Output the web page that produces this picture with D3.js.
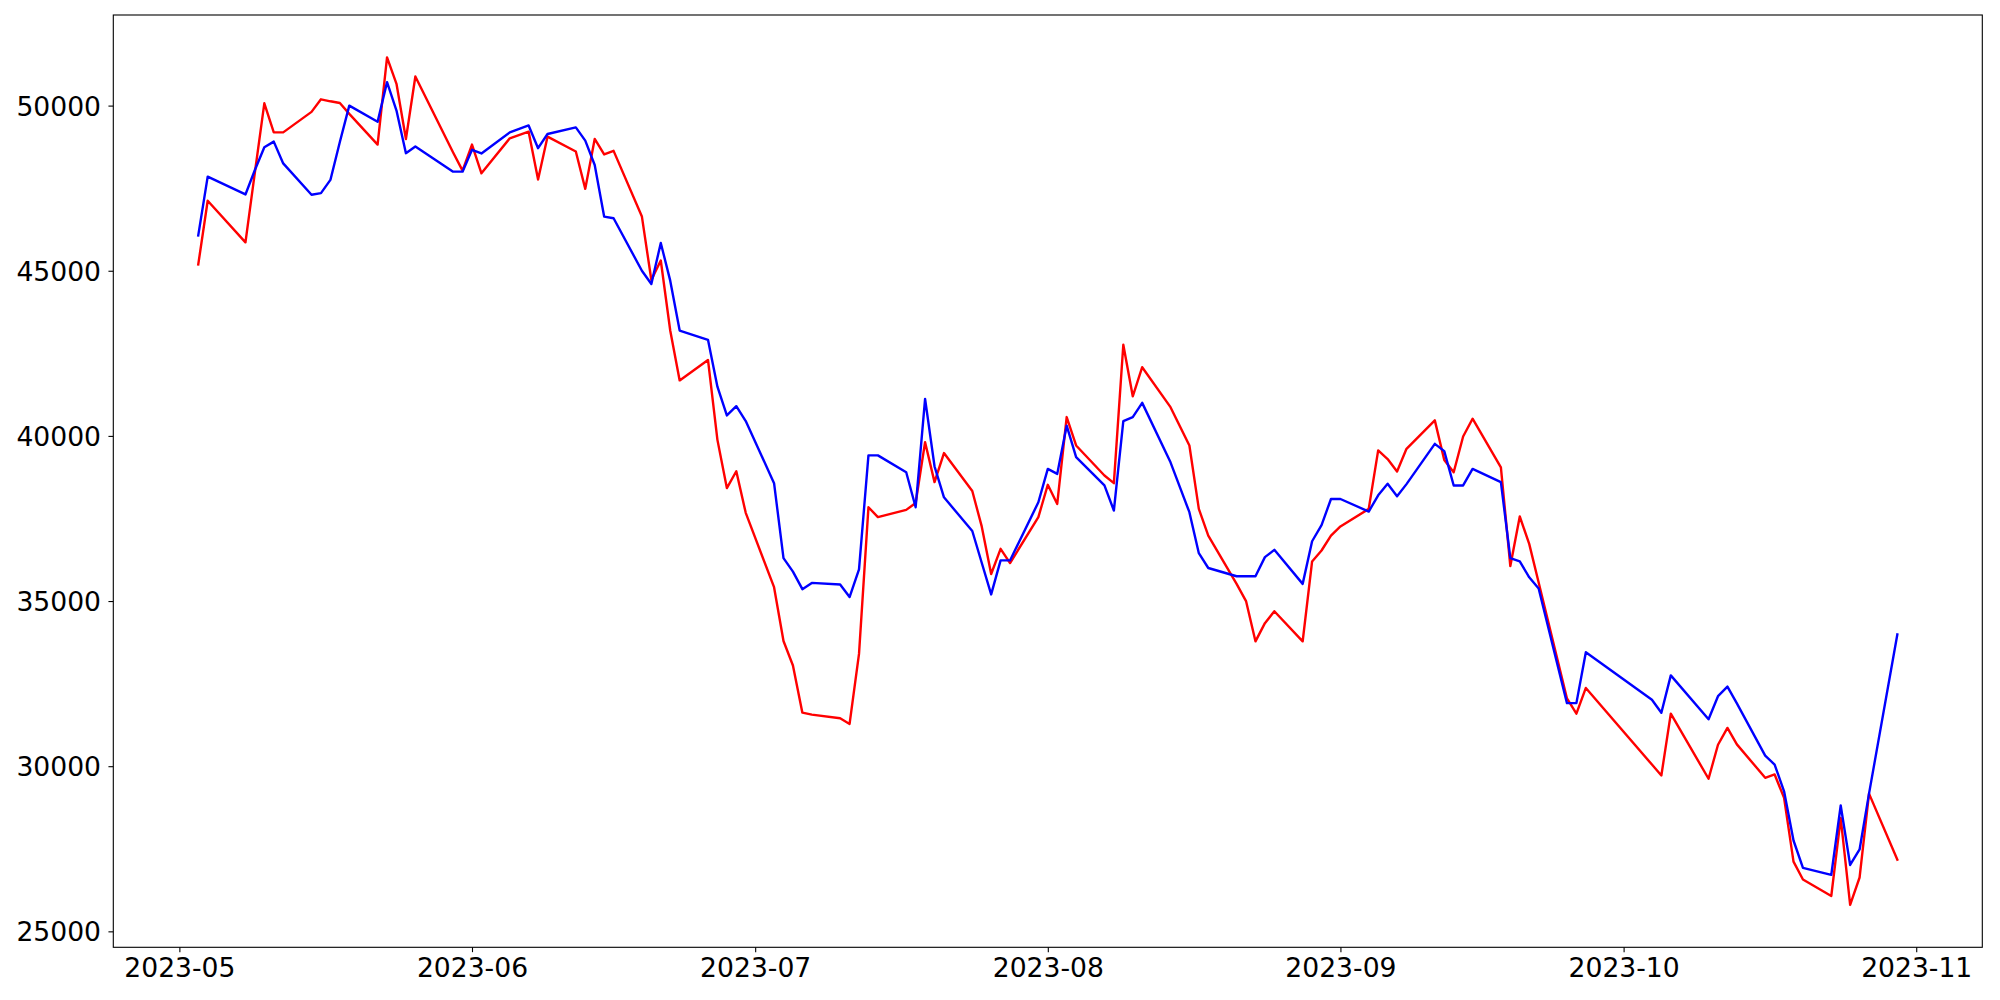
<!DOCTYPE html>
<html>
<head>
<meta charset="utf-8">
<script src="https://cdn.jsdelivr.net/npm/d3@7"></script>
<style>
  html, body { margin: 0; padding: 0; background: #ffffff; }
  svg { display: block; }
</style>
</head>
<body>
<svg id="chart" width="2000" height="1000"></svg>
<script>
// ---- data ----
const dates = [
  "2023-05-03","2023-05-04","2023-05-08","2023-05-09","2023-05-10","2023-05-11","2023-05-12","2023-05-15","2023-05-16","2023-05-17","2023-05-18","2023-05-19","2023-05-22","2023-05-23","2023-05-24","2023-05-25","2023-05-26","2023-05-30","2023-05-31",
  "2023-06-01","2023-06-02","2023-06-05","2023-06-07","2023-06-08","2023-06-09","2023-06-12","2023-06-13","2023-06-14","2023-06-15","2023-06-16","2023-06-19","2023-06-20","2023-06-21","2023-06-22","2023-06-23","2023-06-26","2023-06-27","2023-06-28","2023-06-29","2023-06-30",
  "2023-07-03","2023-07-04","2023-07-05","2023-07-06","2023-07-07","2023-07-10","2023-07-11","2023-07-12","2023-07-13","2023-07-14","2023-07-17","2023-07-18","2023-07-19","2023-07-20","2023-07-21","2023-07-24","2023-07-25","2023-07-26","2023-07-27","2023-07-28","2023-07-31",
  "2023-08-01","2023-08-02","2023-08-03","2023-08-04","2023-08-07","2023-08-08","2023-08-09","2023-08-10","2023-08-11","2023-08-14","2023-08-16","2023-08-17","2023-08-18","2023-08-21","2023-08-22","2023-08-23","2023-08-24","2023-08-25","2023-08-28","2023-08-29","2023-08-30","2023-08-31",
  "2023-09-01","2023-09-04","2023-09-05","2023-09-06","2023-09-07","2023-09-08","2023-09-11","2023-09-12","2023-09-13","2023-09-14","2023-09-15","2023-09-18","2023-09-19","2023-09-20","2023-09-21","2023-09-22","2023-09-25","2023-09-26","2023-09-27",
  "2023-10-04","2023-10-05","2023-10-06","2023-10-10","2023-10-11","2023-10-12","2023-10-13","2023-10-16","2023-10-17","2023-10-18","2023-10-19","2023-10-20","2023-10-23","2023-10-24","2023-10-25","2023-10-26","2023-10-27","2023-10-30"
];

const blueValues = [
  46070,47850,47310,48050,48740,48910,48250,47300,47350,47750,48900,50000,49510,50710,49850,48560,48760,48000,48000,
  48660,48550,49190,49400,48710,49140,49340,48940,48200,46640,46590,45000,44600,45840,44700,43190,42910,41490,40620,40900,40450,
  38570,36300,35890,35360,35550,35500,35120,35960,39410,39410,38900,37840,41120,39080,38140,37120,36160,35200,36230,36230,37990,
  39000,38850,40310,39360,38500,37740,40450,40570,41000,39200,37690,36450,36000,35750,35750,35750,36330,36550,35520,36810,37300,38090,
  38090,37710,38200,38550,38170,38540,39760,39540,38500,38500,39000,38600,36300,36200,35720,35380,31910,31910,33450,
  32010,31620,32750,31420,32120,32410,31900,30320,30050,29240,27750,26920,26710,28810,27010,27480,29170,33990
];

const redValues = [
  45190,47120,45860,47980,50070,49190,49190,49810,50190,50130,50080,49750,48820,51460,50660,48990,50880,48580,48030,
  48820,47950,49010,49210,47760,49060,48610,47480,48990,48520,48630,46640,44720,45310,43190,41680,42300,39880,38420,38930,37670,
  35420,33790,33050,31620,31560,31450,31280,33400,37840,37540,37760,37970,39810,38600,39480,38330,37260,35820,36580,36150,37540,
  38520,37940,40570,39710,38800,38570,42760,41200,42080,40870,39710,37790,36980,35520,35000,33780,34330,34690,33780,36200,36530,36980,
  37260,37790,39560,39300,38920,39610,40470,39270,38900,39980,40520,39050,36060,37560,36730,35560,32050,31590,32370,
  30050,29720,31590,29620,30650,31160,30660,29650,29750,29040,27110,26570,26070,28430,25800,26630,29170,27170
];

const yTickValues = [25000, 30000, 35000, 40000, 45000, 50000];

// ---- layout ----
const svg = d3.select("#chart");
const W = 2000, H = 1000;
const plot = { left: 113.3, top: 15, right: 1982.3, bottom: 947.3 };
svg.append("rect").attr("width", W).attr("height", H).attr("fill", "#ffffff");

const parse = d3.utcParse("%Y-%m-%d");
const parsed = dates.map(parse);

const blueData = parsed.map((d, i) => ({ date: d, value: blueValues[i] }));
const redData = parsed.map((d, i) => ({ date: d, value: redValues[i] }));

// matplotlib-like 5% margins
const [t0, t1] = d3.extent(parsed);
const span = t1 - t0;
const xDomain = [new Date(+t0 - 0.05 * span), new Date(+t1 + 0.05 * span)];
const allVals = blueValues.concat(redValues);
const [vMin, vMax] = d3.extent(allVals);
const vSpan = vMax - vMin;
const yDomain = [vMin - 0.05 * vSpan, vMax + 0.05 * vSpan];

const x = d3.scaleUtc().domain(xDomain).range([plot.left, plot.right]);
const y = d3.scaleLinear().domain(yDomain).range([plot.bottom, plot.top]);

const font = "'DejaVu Sans', sans-serif";
const fontSize = 26.6;

// ---- lines ----
const line = d3.line().x(d => x(d.date)).y(d => y(d.value));

const clipId = "plotclip";
svg.append("clipPath").attr("id", clipId)
  .append("rect")
  .attr("x", plot.left).attr("y", plot.top)
  .attr("width", plot.right - plot.left).attr("height", plot.bottom - plot.top);

const g = svg.append("g").attr("clip-path", `url(#${clipId})`);
g.append("path").datum(redData)
  .attr("d", line).attr("fill", "none")
  .attr("stroke", "#ff0000").attr("stroke-width", 2.4)
  .attr("stroke-linejoin", "round").attr("stroke-linecap", "square");
g.append("path").datum(blueData)
  .attr("d", line).attr("fill", "none")
  .attr("stroke", "#0000ff").attr("stroke-width", 2.4)
  .attr("stroke-linejoin", "round").attr("stroke-linecap", "square");

// ---- axes ----
const xAxis = d3.axisBottom(x)
  .ticks(d3.utcMonth.every(1))
  .tickFormat(d3.utcFormat("%Y-%m"))
  .tickSize(4.86)
  .tickPadding(6.3);
const gx = svg.append("g")
  .attr("transform", `translate(0,${plot.bottom})`)
  .call(xAxis);
gx.select(".domain").remove();
gx.selectAll(".tick line").attr("stroke", "#000").attr("stroke-width", 1.1);
gx.selectAll(".tick text")
  .attr("fill", "#000")
  .style("font-family", font)
  .style("font-size", fontSize + "px");

const yAxis = d3.axisLeft(y)
  .tickValues(yTickValues)
  .tickFormat(d3.format("d"))
  .tickSize(4.86)
  .tickPadding(7.4);
const gy = svg.append("g")
  .attr("transform", `translate(${plot.left},0)`)
  .call(yAxis);
gy.select(".domain").remove();
gy.selectAll(".tick line").attr("stroke", "#000").attr("stroke-width", 1.1);
gy.selectAll(".tick text")
  .attr("fill", "#000")
  .attr("dy", "0.36em")
  .style("font-family", font)
  .style("font-size", fontSize + "px");

// ---- frame ----
svg.append("rect")
  .attr("x", plot.left).attr("y", plot.top)
  .attr("width", plot.right - plot.left).attr("height", plot.bottom - plot.top)
  .attr("fill", "none").attr("stroke", "#000").attr("stroke-width", 1.1);
</script>
</body>
</html>
